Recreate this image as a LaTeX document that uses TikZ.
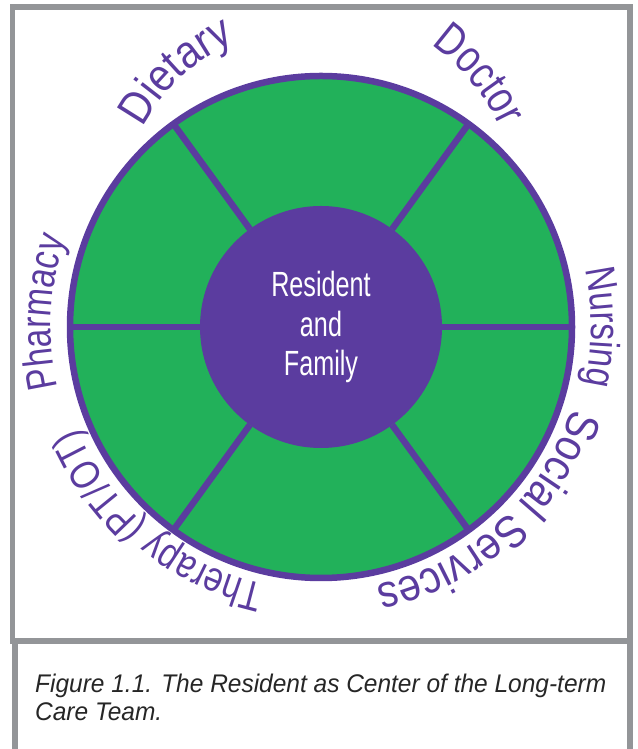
\documentclass[tikz,border=0pt]{standalone}
\usepackage{fontspec}
\setmainfont{Liberation Sans}
\newfontfamily\labelfont[FakeStretch=0.8]{Liberation Sans}
\newfontfamily\widelabelfont[FakeStretch=0.88]{Liberation Sans}
\newfontfamily\hubfont[FakeStretch=0.72]{Liberation Sans}
\newfontfamily\capfont[FakeStretch=0.96]{Liberation Sans}
\usepackage{tikz}
\usetikzlibrary{calc, decorations.text}
\definecolor{wheelgreen}{HTML}{22B15A}
\definecolor{wheelpurple}{HTML}{5B3C9F}
\definecolor{framegray}{HTML}{939598}
\newcommand{\labtop}{\labelfont\fontsize{46}{46}\selectfont\color{wheelpurple}}
\newcommand{\labwide}{\widelabelfont\fontsize{46}{46}\selectfont\color{wheelpurple}}
\newcommand{\labside}{\labelfont\fontsize{42}{42}\selectfont\color{wheelpurple}}

\begin{document}
\begin{tikzpicture}[x=1pt, y=1pt]
\tikzstyle{frame} = [draw=framegray, line width=5.5pt]
\tikzstyle{rim} = [circle, draw=wheelpurple, line width=6.5pt, fill=wheelgreen, minimum size=502pt, inner sep=0pt, outer sep=0pt]
\tikzstyle{hub} = [circle, fill=wheelpurple, minimum size=242pt, inner sep=0pt, outer sep=0pt, text=white, align=center, font=\hubfont\fontsize{35}{39.5}\selectfont]
\tikzstyle{spoke} = [draw=wheelpurple, line width=6.5pt]
\tikzstyle{rimlabel} = [decorate, decoration={text along path, text align=center}]

\useasboundingbox (0,0) rectangle (637,749);

% frame and caption box
\draw [frame] (12.5,742) rectangle (630,108);
\draw [frame] (15,108) -- (15,0);
\draw [frame] (630,108) -- (630,0);

\node (rim) [rim] at (321,422) {};
\node (hub) [hub] at (rim.center) {Resident\\and\\Family};

\foreach \a in {0,54,126,180,234,306}
  \draw [spoke] (hub.\a) -- (rim.\a);

% team members round the wheel (top two curve tighter)
\coordinate (topc) at (311,533);
\draw [rimlabel, decoration={text={|\labwide|Dietary}}] ($(topc)+(193:190)$) arc [start angle=193, end angle=73, radius=190];
\draw [rimlabel, decoration={text={|\labtop|Doctor}}] ($(topc)+(100:209)$) arc [start angle=100, end angle=-20, radius=209];
\draw [rimlabel, decoration={text={|\labside|Nursing}}] ($(rim.center)+(60:270)$) arc [start angle=60, end angle=-60, radius=270];
\draw [rimlabel, decoration={text={|\labwide|Social Services}}] ($(rim.center)+(22:264)$) arc [start angle=22, end angle=-118, radius=264];
\draw [rimlabel, decoration={text={|\labside|Therapy (PT/OT)}}] ($(rim.center)+(-60:264)$) arc [start angle=-60, end angle=-200, radius=264];
\draw [rimlabel, decoration={text={|\labside|Pharmacy}}] ($(rim.center)+(237:270)$) arc [start angle=237, end angle=117, radius=270];

\node (caption) [anchor=north west, align=left, inner sep=0pt, text=black!85, font=\capfont\itshape\fontsize{25.5}{28}\selectfont] at (35,75) {Figure 1.1. The Resident as Center of the Long-term\\Care Team.};
\end{tikzpicture}
\end{document}
